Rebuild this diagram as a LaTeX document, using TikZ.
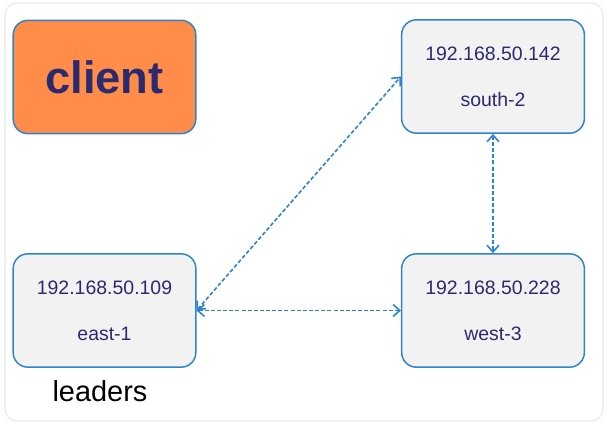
\documentclass[tikz,border=0pt]{standalone}
\usepackage{fontspec}
\setmainfont{Liberation Sans}
\usetikzlibrary{arrows.meta}
\definecolor{boxblue}{RGB}{46,132,204}
\definecolor{boxgray}{RGB}{242,242,242}
\definecolor{clientorange}{RGB}{255,140,72}
\definecolor{textnavy}{RGB}{44,42,110}
\definecolor{framegray}{RGB}{232,232,232}
\tikzset{
  server/.style={draw=boxblue, line width=1.1pt, fill=boxgray, rounded corners=11pt,
    minimum width=137pt, minimum height=85pt, inner sep=0pt, align=center,
    text=textnavy, font=\fontsize{14.6}{34.5}\selectfont},
  clientbox/.style={server, fill=clientorange, font=\fontsize{34}{40}\selectfont\bfseries},
  link/.style={draw=boxblue, line width=1.2pt, dash pattern=on 3pt off 1.6pt,
    {Straight Barb[length=5pt,width=9pt]}-{Straight Barb[length=5pt,width=9pt]}}
}
\begin{document}
\begin{tikzpicture}[x=0.75pt,y=-0.75pt]
\useasboundingbox (0,0) rectangle (609,427);
% frame
\draw[framegray, line width=0.8pt, rounded corners=9pt] (5,3) rectangle (603,421);
% boxes
\node[clientbox] (client) at (104.5,77) {client};
\node[server] (south) at (493,76.5) {192.168.50.142\\south-2};
\node[server] (east) at (104.5,310.5) {192.168.50.109\\east-1};
\node[server] (west) at (493,310.5) {192.168.50.228\\west-3};
\node[font=\fontsize{21.7}{26}\selectfont, text=black] (leaders) at (100,391) {leaders};
% links
\draw[link] (east.east) -- (south.west);
\draw[link] (east.east) -- (west.west);
\draw[link] (south.south) -- (west.north);
\end{tikzpicture}
\end{document}
